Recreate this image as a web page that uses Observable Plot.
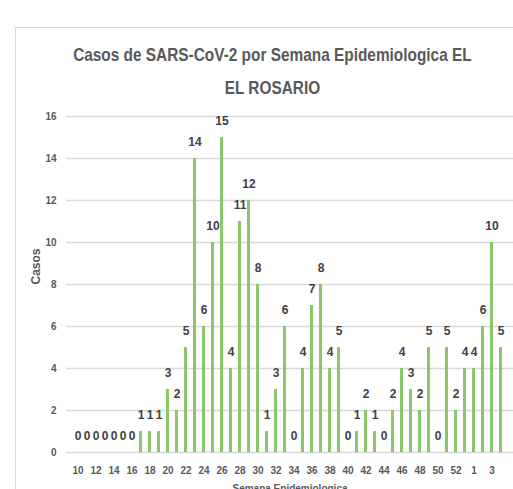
<!DOCTYPE html>
<html>
<head>
<meta charset="utf-8">
<script src="https://cdn.jsdelivr.net/npm/d3@7"></script>
<script src="https://cdn.jsdelivr.net/npm/@observablehq/plot@0.6"></script>
<style>
  html, body { margin: 0; padding: 0; background: #fff; overflow: hidden; width: 513px; height: 489px; }
  #wrap { position: relative; width: 513px; height: 489px; overflow: hidden; }
  #frame { position: absolute; left: 15px; top: 27px; width: 700px; height: 700px; border: 1px solid #d9d9d9; box-sizing: border-box; }
  .title { position: absolute; left: 0; width: 545px; text-align: center; white-space: nowrap;
           font-family: "Liberation Sans", sans-serif; font-weight: bold; font-size: 19px; color: #595959;
           transform: scaleX(0.81); transform-origin: 272px 0; }
  #xlabel { position: absolute; left: 0; width: 580px; top: 483px; text-align: center; white-space: nowrap;
           font-family: "Liberation Sans", sans-serif; font-weight: bold; font-size: 10px; color: #595959; }
  #chart { position: absolute; left: 0; top: 0; }
</style>
</head>
<body>
<div id="wrap">
  <div id="frame"></div>
  <div class="title" style="top:44px">Casos de SARS-CoV-2 por Semana Epidemiologica EL</div>
  <div class="title" style="top:77px">EL ROSARIO</div>
  <div id="chart"></div>
  <div id="xlabel">Semana Epidemiologica</div>
</div>
<script>
const weeks = ["10","11","12","13","14","15","16","17","18","19","20","21","22","23","24","25","26","27","28","29","30","31","32","33","34","35","36","37","38","39","40","41","42","43","44","45","46","47","48","49","50","51","52","53","1","2","3","4"];
const casos = [0,0,0,0,0,0,0,1,1,1,3,2,5,14,6,10,15,4,11,12,8,1,3,6,0,4,7,8,4,5,0,1,2,1,0,2,4,3,2,5,0,5,2,4,4,6,10,5];
const yTicks = [0,2,4,6,8,10,12,14,16];
const xTicks = weeks.filter((d, i) => i % 2 === 0);

const data = weeks.map((w, i) => ({semana: w, casos: casos[i]}));
const font = '"Liberation Sans", sans-serif';

const chart = Plot.plot({
  width: 513,
  height: 489,
  marginLeft: 66,
  marginRight: 0,
  marginTop: 116,
  marginBottom: 37,
  style: {fontFamily: font, fontWeight: "bold", fontSize: "10px", color: "#595959", background: "transparent"},
  x: {type: "band", domain: weeks, paddingInner: 0.65, paddingOuter: 0.25, label: null},
  y: {domain: [0, 16], label: null},
  marks: [
    Plot.ruleY(yTicks, {stroke: "#d9d9d9", strokeWidth: 1.3}),
    Plot.barY(data, {x: "semana", y: "casos", fill: "#8cc66a"}),
    Plot.text(data, {x: "semana", y: "casos", text: d => String(d.casos), dy: -16, lineAnchor: "middle",
                     fill: "#404040", fontSize: 12, fontWeight: "bold"}),
    Plot.axisY({ticks: yTicks, tickSize: 0, tickPadding: 10, fontSize: 10, label: null}),
    Plot.axisX({ticks: xTicks, tickSize: 0, tickPadding: 14, fontSize: 10, label: null}),
    Plot.text(["Casos"], {frameAnchor: "left", dx: -30, rotate: -90, fontSize: 12, fontWeight: "bold", fill: "#595959"})
  ]
});
document.getElementById("chart").appendChild(chart);
</script>
</body>
</html>
